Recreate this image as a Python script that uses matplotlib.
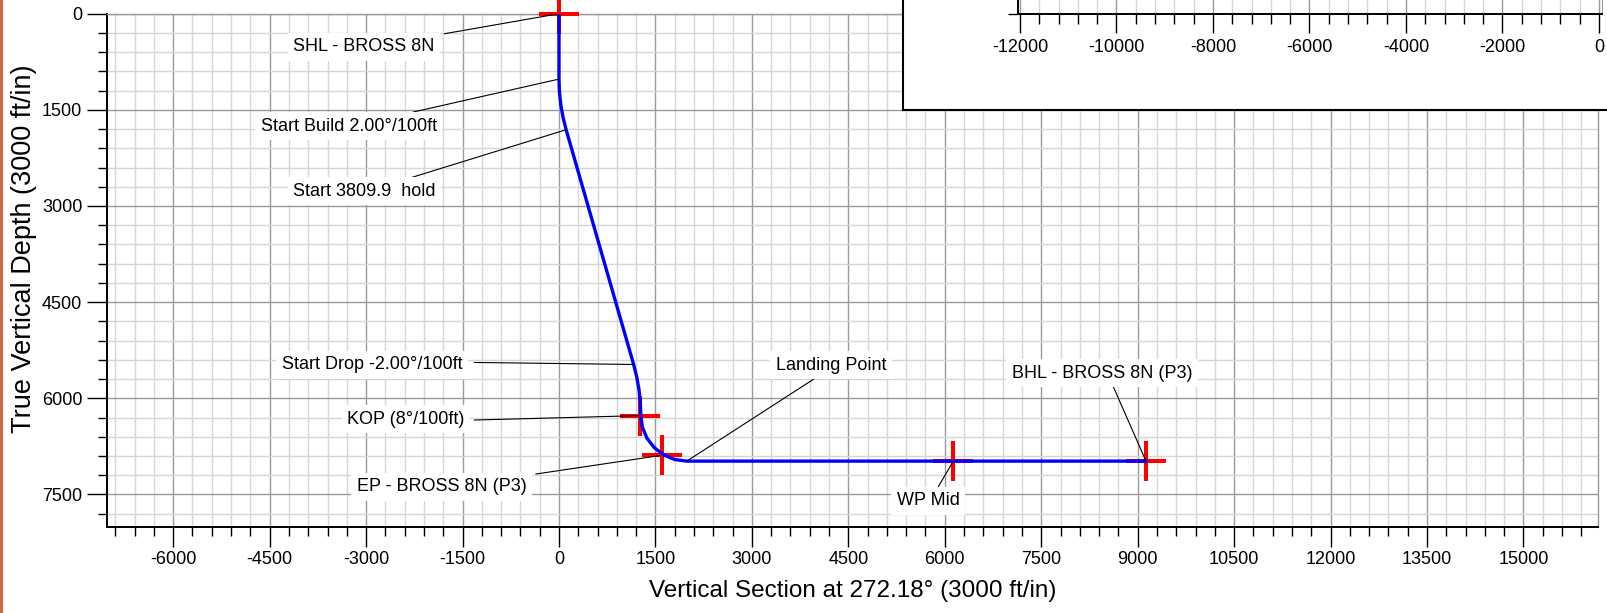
import matplotlib
matplotlib.use('Agg')
import matplotlib.pyplot as plt
from matplotlib.ticker import MultipleLocator
from matplotlib.patches import Rectangle

plt.rcParams['font.family'] = ['Liberation Sans', 'DejaVu Sans']
plt.rcParams['axes.unicode_minus'] = False

# wellpath stations (vertical section ft, TVD ft)
path_vs = [0, 0, 7, 28, 63, 111, 1161, 1209, 1244, 1265, 1272,
           1296, 1368, 1482, 1630, 1803, 1988, 6132, 9129]
path_tvd = [0, 1020, 1220, 1419, 1616, 1810, 5472, 5666, 5863, 6062, 6264,
            6449, 6622, 6770, 6884, 6956, 6980, 6980, 6980]

# target crosses
target_vs = [0, 1260, 1600, 6132, 9129]
target_tvd = [0, 6270, 6890, 6980, 6980]

# annotation labels: text centre, leader start, leader end
ann_text = ["SHL - BROSS 8N", "Start Build 2.00°/100ft", "Start 3809.9  hold",
            "Start Drop -2.00°/100ft", "KOP (8°/100ft)", "EP - BROSS 8N (P3)",
            "Landing Point", "WP Mid", "BHL - BROSS 8N (P3)"]
ann_xy = [(-3030, 515), (-3269, 1752), (-3023, 2766), (-2908, 5479),
          (-2380, 6326), (-1820, 7380), (4227, 5481), (5739, 7597), (8450, 5610)]
lead_from = [(-1778, 312), (-2266, 1534), (-2283, 2552), (-1314, 5441),
             (-1314, 6339), (-358, 7181), (3981, 5688), (5890, 7395), (8621, 5819)]
lead_to = [(0, 0), (0, 1020), (111, 1810), (1161, 5472), (1260, 6270),
           (1560, 6895), (1988, 6980), (6132, 6980), (9129, 6980)]

W, H = 1607, 613
fig = plt.figure(figsize=(W / 100, H / 100), dpi=100)
fig.patch.set_facecolor('white')

GRID_MINOR = '#d6d6d6'
GRID_MAJOR = '#9a9a9a'


def px_ax(x0, y0, x1, y1):
    # pixel box (top-left origin) -> figure fraction rect
    return [x0 / W, 1 - y1 / H, (x1 - x0) / W, (y1 - y0) / H]


# ---- main vertical section ----
ax = fig.add_axes(px_ax(106.7, 13.7, 1598, 526.5))
ax.set_xlim(-7034, 16159)
ax.set_ylim(8000, 0)

ax.xaxis.set_major_locator(MultipleLocator(1500))
ax.xaxis.set_minor_locator(MultipleLocator(300))
ax.yaxis.set_major_locator(MultipleLocator(1500))
ax.yaxis.set_minor_locator(MultipleLocator(300))
ax.grid(which='minor', color=GRID_MINOR, lw=1.0)
ax.grid(which='major', color=GRID_MAJOR, lw=1.0)
ax.set_axisbelow(True)

ax.tick_params(which='major', length=14.4, width=1.0, labelsize=13, pad=3.2)
ax.tick_params(which='minor', length=6.8, width=1.0)
for s in ['left', 'bottom']:
    ax.spines[s].set_color('black')
    ax.spines[s].set_linewidth(1.4)
for s in ['top', 'right']:
    ax.spines[s].set_color(GRID_MAJOR)
    ax.spines[s].set_linewidth(1.0)

ax.set_xlabel("Vertical Section at 272.18° (3000 ft/in)", fontsize=17.5)
ax.xaxis.set_label_coords(0.5, -0.1258)
ax.xaxis.label.set_va('center')
ax.set_ylabel("True Vertical Depth (3000 ft/in)", fontsize=19.5)
ax.yaxis.set_label_coords(-0.0555, 0.5411)
ax.yaxis.label.set_va('center')

# crosses under the path
ax.plot(target_vs, target_tvd, ls='none', marker='+', ms=28.8, mew=2.9,
        color='#ff0000', clip_on=False, zorder=3)
ax.plot(path_vs, path_tvd, color='#0000ff', lw=2.4, zorder=4,
        solid_joinstyle='round')

for txt, xy, p0, p1 in zip(ann_text, ann_xy, lead_from, lead_to):
    ax.plot([p0[0], p1[0]], [p0[1], p1[1]], color='black', lw=0.8, zorder=5)
    ax.text(xy[0], xy[1], txt, fontsize=13, ha='center', va='center', zorder=6,
            bbox=dict(facecolor='white', edgecolor='none', pad=4))

# ---- plan view box (only its lower strip is on the sheet) ----
box = fig.add_axes(px_ax(902.7, -200, 1700, 110))
box.set_xticks([])
box.set_yticks([])
for s in box.spines.values():
    s.set_color('black')
    s.set_linewidth(1.5)
box.set_zorder(5)

plan = fig.add_axes(px_ax(1018.3, -60, 1602.3, 14.3))
plan.set_zorder(6)
plan.patch.set_alpha(0)
plan.set_xlim(-12035, 70)
plan.set_ylim(0, 1500)
plan.xaxis.set_major_locator(MultipleLocator(2000))
plan.xaxis.set_minor_locator(MultipleLocator(400))
plan.set_yticks([0])
plan.set_yticklabels([])
plan.grid(which='minor', axis='x', color=GRID_MINOR, lw=1.0)
plan.grid(which='major', axis='x', color=GRID_MAJOR, lw=1.0)
plan.tick_params(axis='x', which='major', length=14, width=1.0, labelsize=13, pad=3.5)
plan.tick_params(axis='x', which='minor', length=7.2, width=1.0)
plan.tick_params(axis='y', which='major', length=7.2, width=1.0)
for s in ['left', 'bottom']:
    plan.spines[s].set_color('black')
    plan.spines[s].set_linewidth(1.4)
for s in ['top', 'right']:
    plan.spines[s].set_color(GRID_MAJOR)
fig.text(1310 / W, 1 - 77 / H, "West(-)/East(+) (4000 ft/in)", fontsize=17.5,
         ha='center', va='center')

# brown sheet edge on the left
fig.patches.append(Rectangle((0, 0), 2.5 / W, 1, transform=fig.transFigure,
                             facecolor='#c8693f', edgecolor='none', zorder=10))

fig.savefig('out.png', dpi=100)
